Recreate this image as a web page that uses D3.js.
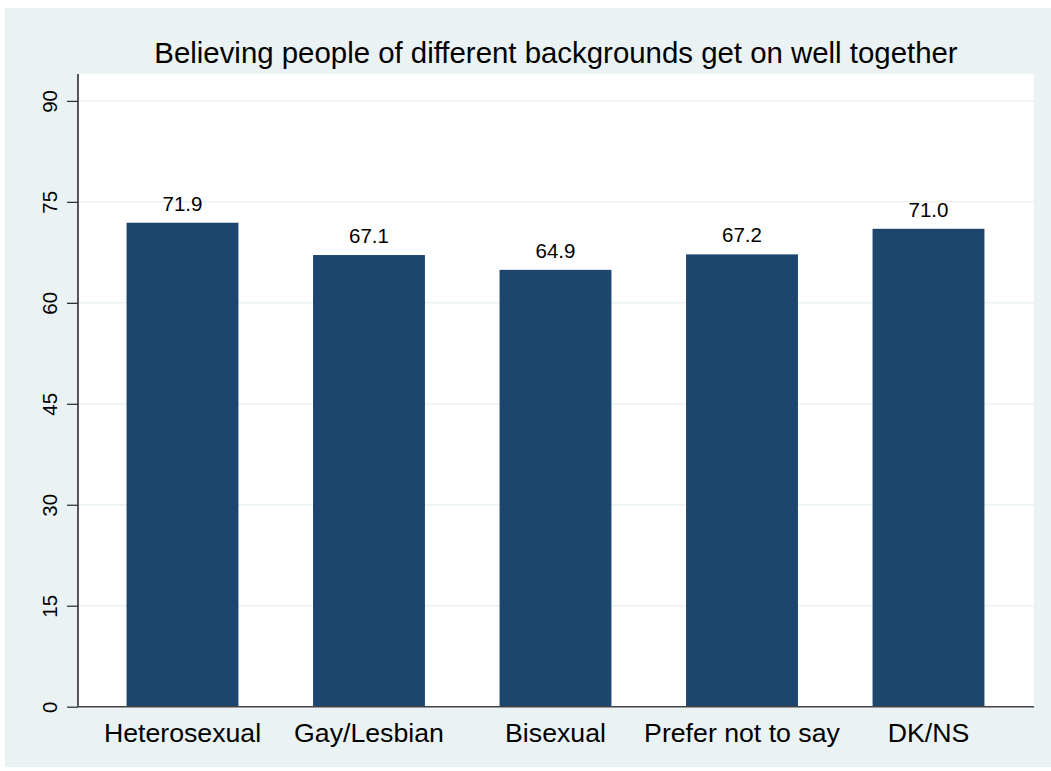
<!DOCTYPE html>
<html>
<head>
<meta charset="utf-8">
<script src="https://cdn.jsdelivr.net/npm/d3@7"></script>
<style>
html,body{margin:0;padding:0;background:#fff;}
svg{display:block;font-family:"Liberation Sans",Arial,sans-serif;}
</style>
</head>
<body>
<svg id="chart" width="1051" height="771"></svg>
<script>
const title = "Believing people of different backgrounds get on well together";
const categories = ["Heterosexual", "Gay/Lesbian", "Bisexual", "Prefer not to say", "DK/NS"];
const values = [71.9, 67.1, 64.9, 67.2, 71.0];
const yTicks = [0, 15, 30, 45, 60, 75, 90];

const svg = d3.select("#chart");
const W = 1051, H = 771;
const plot = {left: 78, right: 1034, top: 74, bottom: 706.7};

svg.append("rect").attr("x", 5).attr("y", 8).attr("width", W - 5).attr("height", 759).attr("fill", "#EAF2F3");
svg.append("rect").attr("x", plot.left).attr("y", plot.top)
  .attr("width", plot.right - plot.left).attr("height", plot.bottom - plot.top).attr("fill", "#fff");

const y = d3.scaleLinear().domain([0, 90]).range([plot.bottom, 100.9]);
const x = d3.scaleBand().domain(categories).range([89.25, 1021.75]).paddingInner(0.4).paddingOuter(0.2);

// grid
svg.append("g").selectAll("line").data(yTicks.filter(d => d > 0)).join("line")
  .attr("x1", plot.left).attr("x2", plot.right)
  .attr("y1", d => y(d)).attr("y2", d => y(d))
  .attr("stroke", "#EAF2F3").attr("stroke-width", 1.5);

// bars
svg.append("g").selectAll("rect").data(values).join("rect")
  .attr("x", (d, i) => x(categories[i]))
  .attr("width", x.bandwidth())
  .attr("y", d => y(d))
  .attr("height", d => y(0) - y(d))
  .attr("fill", "#1D466E");

// value labels
svg.append("g").selectAll("text").data(values).join("text")
  .attr("x", (d, i) => x(categories[i]) + x.bandwidth() / 2)
  .attr("y", d => y(d) - 12)
  .attr("text-anchor", "middle")
  .attr("font-size", 20.5)
  .attr("fill", "#000")
  .text(d => d.toFixed(1));

// y axis
const yAxis = d3.axisLeft(y).tickValues(yTicks).tickSize(11).tickPadding(10);
const gy = svg.append("g").attr("transform", `translate(${plot.left},0)`).call(yAxis);
gy.select(".domain").attr("d", `M0,${plot.top}V${plot.bottom}`).attr("stroke", "#000").attr("stroke-width", 1.3);
gy.selectAll(".tick line").attr("stroke", "#333").attr("stroke-width", 1.3);
gy.selectAll(".tick text")
  .attr("font-size", 20.5).attr("fill", "#000").attr("font-family", "Liberation Sans, Arial, sans-serif")
  .attr("transform", "rotate(-90)")
  .attr("x", 0).attr("y", -21).attr("dy", "0")
  .attr("text-anchor", "middle");

// x axis
const xAxis = d3.axisBottom(x).tickSize(0).tickPadding(0);
const gx = svg.append("g").attr("transform", `translate(0,${plot.bottom})`).call(xAxis);
gx.select(".domain").attr("d", `M${plot.left},0H${plot.right}`).attr("stroke", "#444").attr("stroke-width", 1.5);
gx.selectAll(".tick text").attr("font-size", 26.7).attr("fill", "#000")
  .attr("font-family", "Liberation Sans, Arial, sans-serif").attr("y", 35.6).attr("dy", "0");

// title
svg.append("text").attr("x", (plot.left + plot.right) / 2).attr("y", 63.3)
  .attr("text-anchor", "middle").attr("font-size", 29.4).attr("fill", "#000")
  .text(title);
</script>
</body>
</html>
